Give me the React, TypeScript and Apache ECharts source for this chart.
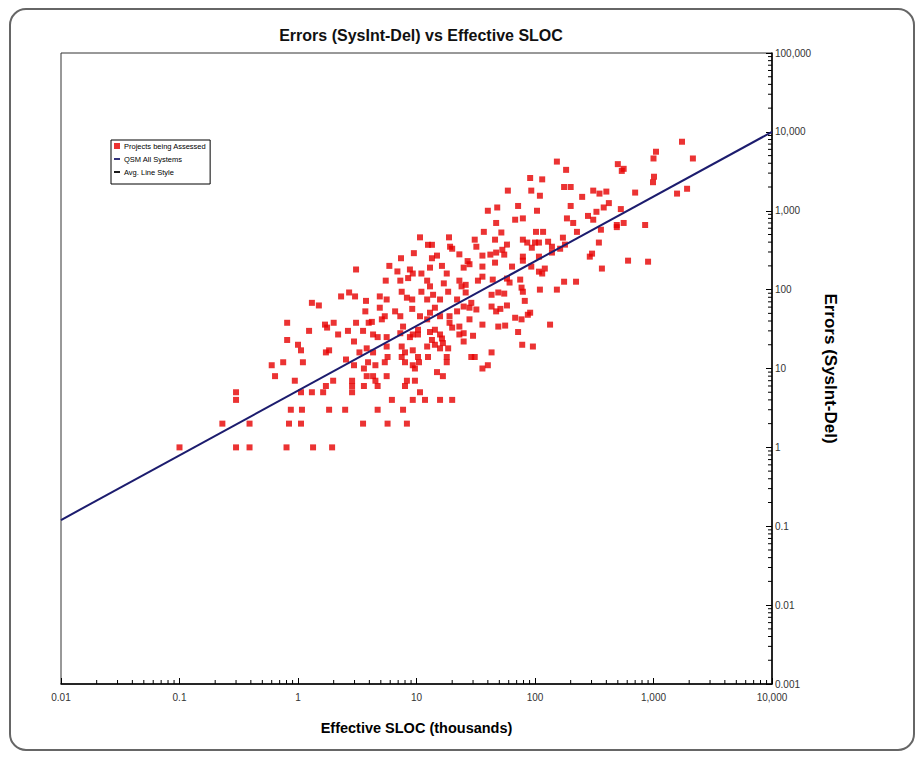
import React, { useEffect, useRef } from "react";
import * as echarts from "echarts";

// Effective SLOC (thousands) / Errors (SysInt-Del) for the assessed projects
const sloc: number[] = [
  0.1, 0.23, 0.3, 0.3, 0.3, 0.39, 0.39, 0.6, 0.64, 0.75,
  0.81, 0.81, 0.8, 0.84, 0.87, 0.94, 1.0, 1.06, 1.06, 1.08,
  1.06, 1.1, 1.24, 1.31, 1.31, 1.34, 1.5, 1.63, 1.69, 1.76,
  1.72, 1.72, 1.83, 1.83, 1.94, 1.98, 2.0, 2.18, 2.31, 2.5,
  2.54, 2.7, 2.64, 2.86, 2.86, 2.86, 2.97, 2.97, 3.03, 3.09,
  3.09, 3.54, 3.6, 3.54, 3.6, 3.75, 3.8, 3.9, 3.95,
  10.7, 12.5, 13.5, 18.8, 19.2, 31, 32, 9.5, 7.4, 13.5,
  14.9, 20, 23, 27, 5.9, 6.9, 8.8, 9.3, 11, 13,
  16.4, 18, 25, 28, 5.5, 7.3, 8.5, 12.3, 13, 17,
  23, 26, 33, 4.9, 5.6, 7.5, 8.3, 9.2, 11, 12.3,
  13.8, 15.8, 18.5, 22, 24, 26, 29, 32, 3.7, 4.9,
  5.4, 6.6, 7.3, 9.2, 10.7, 13, 14.3, 15.8, 19, 22,
  25, 28, 4.2, 5.1, 7.7, 10.3, 12.3, 14.3, 15.8, 19,
  20, 23, 25, 28, 72, 4.3, 4.7, 5.6, 7.3, 8.8,
  9.3, 10.3, 13, 13.5, 16.4, 16.7, 23, 25, 30, 78,
  96, 3.8, 4.3, 5.6, 7.5, 8.0, 9.3, 10.3, 12.3, 14.3,
  15.8, 18.5, 43, 29, 31, 3.3, 4.5, 5.4, 5.7, 7.5,
  8.0, 9.3, 9.7, 10.5, 12.5, 14.9, 16.7, 18, 18, 36,
  40, 4.3, 4.5, 4.7, 5.6, 8.3, 8.0, 9.7, 10.7, 6.2,
  9.3, 11.8, 15.8, 20, 4.7, 7.7, 5.7, 8.3,
  1740, 1050, 1000, 2150, 500, 540, 560, 153, 183, 91,
  115, 59, 93, 110, 176, 200, 310, 350, 400, 250,
  700, 990, 1010, 1580, 1920, 40, 48, 72, 104, 200,
  380, 420, 330, 280, 310, 530, 68, 79, 47, 186,
  210, 226, 490, 490, 560, 850, 37, 52, 102, 117,
  360, 46, 79, 86, 100, 108, 129, 139, 172, 179,
  346, 290, 303, 36, 42, 47, 53, 55, 58, 79,
  79, 94, 108, 139, 163, 610, 900, 36, 36, 46,
  64, 93, 108, 115, 121, 367, 44, 58, 61, 75,
  77, 79, 110, 153, 176, 222, 43, 49, 55, 82,
  43, 47, 51, 58, 68, 77, 87, 91, 36, 49,
  56, 134,
];
const errors: number[] = [
  1, 2, 5, 4, 1, 2, 1, 11, 8, 12,
  38, 23, 1, 2, 3, 7, 20, 17, 5, 3,
  2, 12, 30, 68, 5, 1, 63, 5, 36, 33,
  6, 16, 17, 3, 1, 7, 38, 27, 82, 3,
  13, 92, 30, 7, 6, 5, 22, 11, 82, 180,
  38, 30, 10, 2, 6, 72, 8, 12, 38,
  460, 370, 370, 460, 350, 430, 350, 290, 250, 250,
  270, 330, 280, 230, 200, 170, 180, 160, 160, 190,
  200, 160, 190, 210, 130, 130, 140, 130, 110, 120,
  130, 115, 130, 82, 75, 94, 79, 75, 94, 75,
  86, 75, 94, 75, 110, 92, 68, 56, 53, 59,
  46, 53, 46, 57, 46, 51, 59, 46, 46, 53,
  61, 59, 39, 42, 34, 31, 42, 31, 27, 38,
  33, 34, 28, 42, 29, 27, 25, 25, 28, 25,
  27, 27, 29, 23, 24, 21, 27, 22, 26, 20,
  19, 18, 16, 19, 19, 16, 17, 14, 19, 20,
  18, 18, 16, 14, 14, 16, 11, 12, 14, 14,
  12, 11, 10, 12, 14, 9, 8, 14, 12, 10,
  11, 8, 7, 6, 8, 7, 6, 7, 5, 4,
  4, 4, 4, 4, 3, 3, 2, 2,
  7500, 5600, 4600, 4600, 3900, 3200, 3400, 4200, 3300, 2600,
  2500, 1800, 1800, 1550, 2000, 2000, 1800, 1650, 1750, 1500,
  1700, 2300, 2700, 1650, 1900, 1000, 1100, 1150, 1000, 1150,
  1100, 1250, 970, 860, 770, 1050, 770, 800, 700, 800,
  700, 540, 660, 620, 700, 660, 540, 530, 540, 540,
  575, 430, 430, 395, 395, 395, 405, 350, 456, 372,
  395, 262, 286, 270, 278, 295, 320, 278, 372, 262,
  233, 340, 262, 295, 330, 233, 226, 196, 146, 220,
  196, 196, 169, 160, 185, 185, 134, 138, 123, 134,
  106, 94, 100, 100, 126, 126, 86, 92, 89, 72,
  61, 53, 57, 63, 44, 42, 48, 51, 36, 34,
  35, 36,
];

// QSM All Systems average trend line (end points)
const trendSloc: number[] = [0.01, 10000];
const trendErrors: number[] = [0.12, 10000];

const xRange: [number, number] = [0.01, 10000];
const yRange: [number, number] = [0.001, 100000];
const minorMultipliers: number[] = [2, 3, 4, 5, 6, 7, 8, 9];

const titleText = "Errors (SysInt-Del) vs Effective SLOC";
const xName = "Effective SLOC (thousands)";
const yName = "Errors (SysInt-Del)";
const legendNames = ["Projects being Assessed", "QSM All Systems", "Avg. Line Style"];

const ARIAL = "'Liberation Sans', Arial, sans-serif";
const DASH = "path://M0,0M0,3.5L10,3.5L10,6.5L0,6.5ZM10,10";

function fmt(v: number): string {
  if (v >= 1) return Math.round(v).toLocaleString("en-US");
  return String(Number(v.toPrecision(1)));
}

function minorValues(lo: number, hi: number): number[] {
  const out: number[] = [];
  for (let d = lo; d < hi * 0.999; d *= 10) {
    for (const m of minorMultipliers) out.push(Number((d * m).toPrecision(3)));
  }
  return out;
}

export default function App() {
  const ref = useRef<HTMLDivElement>(null);
  useEffect(() => {
    if (!ref.current) return;
    const chart = echarts.init(ref.current, null, { renderer: "svg" });
    const points = sloc.map((x, i) => [x, errors[i]]);
    const trend = trendSloc.map((x, i) => [x, trendErrors[i]]);
    const xMinor = minorValues(xRange[0], xRange[1]).map((v) => [v, yRange[0]]);
    const yMinor = minorValues(yRange[0], yRange[1]).map((v) => [xRange[1], v]);

    chart.setOption({
      animation: false,
      backgroundColor: "#fff",
      title: {
        text: titleText,
        left: 416,
        textAlign: "center",
        top: 22,
        textStyle: { fontFamily: ARIAL, fontSize: 16, fontWeight: "bold", color: "#111" },
      },
      legend: {
        orient: "vertical",
        left: 111,
        top: 140,
        itemWidth: 6,
        itemHeight: 6,
        itemGap: 5,
        padding: [2, 4, 8, 3],
        borderColor: "#000",
        borderWidth: 1,
        backgroundColor: "#fff",
        data: [
          { name: legendNames[0], icon: "rect" },
          { name: legendNames[1], icon: DASH },
          { name: legendNames[2], icon: DASH },
        ],
        textStyle: { fontFamily: ARIAL, fontSize: 7.5, color: "#000", padding: [0, 0, 0, -1] },
      },
      grid: {
        left: 61,
        right: 150,
        top: 53,
        bottom: 87,
        show: true,
        borderColor: "#333",
        borderWidth: 1,
        backgroundColor: "transparent",
      },
      xAxis: {
        type: "log",
        logBase: 10,
        min: xRange[0],
        max: xRange[1],
        splitNumber: 6,
        name: xName,
        nameLocation: "middle",
        nameGap: 36,
        nameTextStyle: { fontFamily: ARIAL, fontSize: 14.5, fontWeight: "bold", color: "#000" },
        axisLine: { show: true, lineStyle: { color: "#000", width: 1.5 } },
        axisTick: { show: true, inside: true, length: 6, lineStyle: { color: "#000" } },
        axisLabel: {
          formatter: fmt,
          fontFamily: ARIAL,
          fontSize: 10,
          color: "#333",
          margin: 8,
          showMinLabel: true,
          showMaxLabel: true,
        },
        splitLine: { show: false },
      },
      yAxis: {
        type: "log",
        logBase: 10,
        position: "right",
        min: yRange[0],
        max: yRange[1],
        splitNumber: 8,
        name: yName,
        nameLocation: "middle",
        nameRotate: -90,
        nameGap: 48,
        nameTextStyle: { fontFamily: ARIAL, fontSize: 17, fontWeight: "bold", color: "#000" },
        axisLine: { show: true, lineStyle: { color: "#000", width: 1.5 } },
        axisTick: { show: true, inside: true, length: 6, lineStyle: { color: "#000" } },
        axisLabel: {
          formatter: fmt,
          fontFamily: ARIAL,
          fontSize: 10,
          color: "#333",
          margin: 3,
          showMinLabel: true,
          showMaxLabel: true,
        },
        splitLine: { show: false },
      },
      graphic: [
        {
          type: "rect",
          shape: { x: 10, y: 9, width: 904, height: 741, r: 16 },
          style: { fill: "none", stroke: "#666", lineWidth: 2 },
          silent: true,
          z: -10,
        },
      ],
      series: [
        {
          name: legendNames[0],
          type: "scatter",
          symbol: "rect",
          symbolSize: 6,
          itemStyle: { color: "#e60000" },
          data: points,
          z: 3,
        },
        {
          name: legendNames[1],
          type: "line",
          showSymbol: false,
          symbol: "none",
          lineStyle: { color: "#1c1c6e", width: 2 },
          itemStyle: { color: "#1c1c6e" },
          data: trend,
          z: 4,
        },
        {
          name: legendNames[2],
          type: "line",
          showSymbol: false,
          symbol: "none",
          lineStyle: { color: "#000", width: 2 },
          itemStyle: { color: "#000" },
          data: [],
        },
        {
          type: "custom",
          silent: true,
          clip: false,
          encode: { x: 0, y: 1 },
          data: xMinor,
          renderItem: (_p: any, api: any) => {
            const pt = api.coord([api.value(0), api.value(1)]);
            return {
              type: "line",
              shape: { x1: pt[0], y1: pt[1], x2: pt[0], y2: pt[1] - 4 },
              style: { stroke: "#000", lineWidth: 1 },
            };
          },
          z: 5,
        },
        {
          type: "custom",
          silent: true,
          clip: false,
          encode: { x: 0, y: 1 },
          data: yMinor,
          renderItem: (_p: any, api: any) => {
            const pt = api.coord([api.value(0), api.value(1)]);
            return {
              type: "line",
              shape: { x1: pt[0], y1: pt[1], x2: pt[0] - 4, y2: pt[1] },
              style: { stroke: "#000", lineWidth: 1 },
            };
          },
          z: 5,
        },
      ],
    });
    return () => chart.dispose();
  }, []);
  return (
    <div
      ref={ref}
      style={{ position: "absolute", left: 0, top: 0, width: 922, height: 771, background: "#fff" }}
    />
  );
}
